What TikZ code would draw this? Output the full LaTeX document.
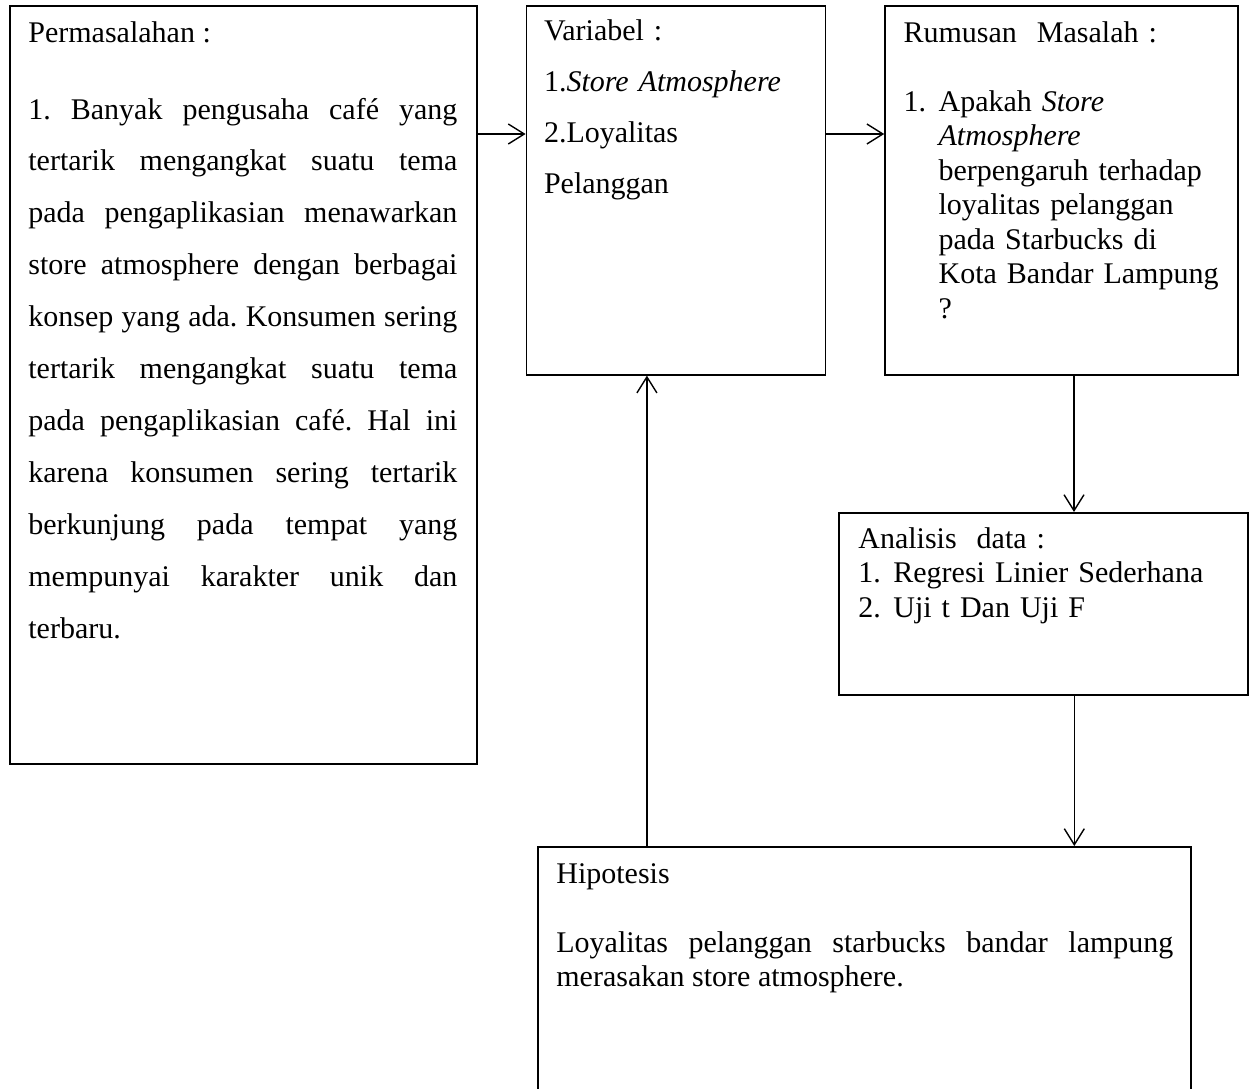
\documentclass[tikz,border=0pt]{standalone}
\usepackage{fontspec}
\setmainfont{Liberation Serif}
\usepackage{tikz}
\usetikzlibrary{arrows.meta,positioning}
\tikzstyle{panah} = [line width=0.7pt,-{Straight Barb[length=8pt,width=10pt]}]
\tikzstyle{kotak} = [rectangle, draw, line width=0.8pt, inner sep=0pt, anchor=north west]
\tikzstyle{isi} = [inner sep=0pt, align=left, font=\fontsize{15}{17.25}\selectfont\frenchspacing]
\newcommand{\nomor}[1]{\makebox[17.5pt][l]{#1}}
\newcommand{\gantung}{\hspace*{17.5pt}}
\newcommand{\longgar}{\tolerance=10000\relax}

\begin{document}
\begin{tikzpicture}
\useasboundingbox (0,0) rectangle (626.5pt,-544pt);
% kotak
\node[kotak, minimum width=233.5pt, minimum height=379pt] (masalah) at (4.5pt,-2.5pt) {};
\node[kotak, minimum width=149.5pt, minimum height=184.5pt, right=24pt of masalah.north east, anchor=north west] (variabel) {};
\node[kotak, minimum width=176.5pt, minimum height=184.5pt, right=29pt of variabel.north east, anchor=north west] (rumusan) {};
\node[kotak, minimum width=204.5pt, minimum height=91pt] (analisis) at (419pt,-256pt) {};
\node[kotak, minimum width=326.5pt, minimum height=150pt] (hipotesis) at (268.5pt,-423pt) {};
% isi kotak
\node[isi, text width=214.5pt, align=justify, font=\fontsize{15}{25.95}\selectfont\frenchspacing\longgar,
  below right=18.5pt and 9.5pt of masalah.north west, anchor=base west] (teksmasalah) {Permasalahan :\\[12.55pt]
1. Banyak pengusaha café yang\linebreak
tertarik mengangkat suatu tema\linebreak
pada pengaplikasian menawarkan\linebreak
store atmosphere dengan berbagai\linebreak
konsep yang ada. Konsumen sering\linebreak
tertarik mengangkat suatu tema\linebreak
pada pengaplikasian café. Hal ini\linebreak
karena konsumen sering tertarik\linebreak
berkunjung pada tempat yang\linebreak
mempunyai karakter unik dan\linebreak
terbaru.};
\node[isi, text width=140pt, font=\fontsize{15}{25.5}\selectfont,
  below right=17.5pt and 9pt of variabel.north west, anchor=base west] (teksvariabel) {Variabel :\\
1.\textit{Store Atmosphere}\\
2.Loyalitas\\
Pelanggan};
\node[isi, text width=165pt, below right=18.5pt and 9.5pt of rumusan.north west, anchor=base west] (teksrumusan) {Rumusan~ Masalah :\\[17.25pt]
\nomor{1.}Apakah \textit{Store}\\
\gantung\textit{Atmosphere}\\
\gantung berpengaruh terhadap\\
\gantung loyalitas pelanggan\\
\gantung pada Starbucks di\\
\gantung Kota Bandar Lampung\\
\gantung ?};
\node[isi, text width=195pt, below right=18pt and 10pt of analisis.north west, anchor=base west] (teksanalisis) {Analisis~ data :\\
\nomor{1.}Regresi Linier Sederhana\\
\nomor{2.}Uji t Dan Uji F};
\node[isi, text width=308.5pt, align=justify, font=\fontsize{15}{17.25}\selectfont\frenchspacing\longgar,
  below right=18.5pt and 9.5pt of hipotesis.north west, anchor=base west] (tekshipotesis) {Hipotesis\\[17.25pt]
Loyalitas pelanggan starbucks bandar lampung\linebreak
merasakan store atmosphere.};
% panah
\draw[panah] ([yshift=-64.5pt]masalah.north east) -- ([yshift=-64.5pt]variabel.north west);
\draw[panah] ([yshift=-64.5pt]variabel.north east) -- ([yshift=-64.5pt]rumusan.north west);
\draw[panah] ([xshift=6.25pt]rumusan.south) -- ([xshift=6.25pt]rumusan.south |- analisis.north);
\draw[panah] ([xshift=15.5pt]analisis.south) -- ([xshift=15.5pt]analisis.south |- hipotesis.north);
\draw[panah] ([xshift=-14.5pt]variabel.south |- hipotesis.north) -- ([xshift=-14.5pt]variabel.south);
\end{tikzpicture}
\end{document}
